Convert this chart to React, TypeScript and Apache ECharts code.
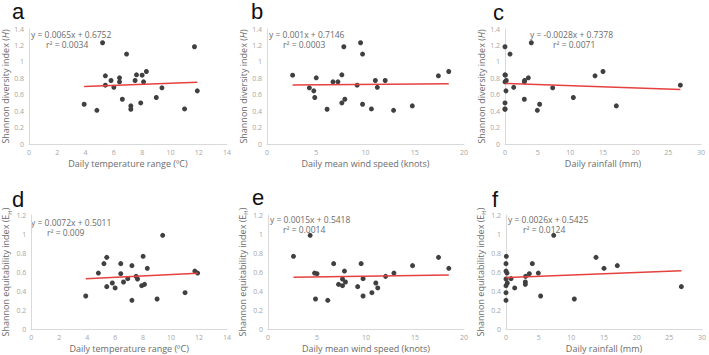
import { useEffect, useRef } from "react";
import * as echarts from "echarts";

// Daily observations (one entry per sampling day)
const tempRange = [3.9, 4.8, 5.2, 5.4, 5.4, 5.8, 6.0, 6.4, 6.4, 6.6, 6.9, 7.2, 7.2, 7.5, 7.6, 7.9, 8.0, 8.1, 8.3, 9.0, 9.4, 11.0, 11.7, 11.9];
const windSpeed = [9.7, 12.85, 9.5, 17.4, 9.15, 11.0, 11.2, 5.0, 6.7, 7.9, 9.7, 14.75, 6.1, 12.0, 7.6, 7.6, 2.6, 7.2, 18.45, 4.85, 4.3, 10.6, 7.8, 4.75];
const rainfall = [5.3, 4.95, 4.03, 13.78, 26.84, 0.2, 1.33, 3.57, 0, 2.96, 0.77, 17.04, 0, 3.0, 0, 0, 0.05, 2.96, 15.0, 10.46, 7.3, 0, 0, 0.15];
const diversityH = [0.484, 0.41, 1.233, 0.83, 0.716, 0.773, 0.69, 0.806, 0.757, 0.545, 1.095, 0.464, 0.423, 0.773, 0.842, 0.5, 0.838, 0.757, 0.883, 0.566, 0.684, 0.427, 1.184, 0.647];
const equitabilityE = [0.347, 0.589, 0.688, 0.754, 0.446, 0.484, 0.432, 0.582, 0.688, 0.495, 0.53, 0.667, 0.302, 0.554, 0.526, 0.456, 0.765, 0.47, 0.639, 0.316, 0.986, 0.382, 0.61, 0.589];

// Linear fits: [slope, intercept, r²]
const fitA = [0.0065, 0.6752, "0.0034"];
const fitB = [0.001, 0.7146, "0.0003"];
const fitC = [-0.0028, 0.7378, "0.0071"];
const fitD = [0.0072, 0.5011, "0.009"];
const fitE = [0.0015, 0.5418, "0.0014"];
const fitF = [0.0026, 0.5425, "0.0124"];

const panelLetters = ["a", "b", "c", "d", "e", "f"];
const xTitles = [
  "Daily temperature range (ºC)",
  "Daily mean wind speed (knots)",
  "Daily rainfall (mm)",
];
const yTitleTop = "Shannon diversity index ({i|H})";
const yTitleBottom = "Shannon equitability index (E{s|H})";

const FONT = "'Open Sans', 'Noto Sans', sans-serif";
const DOT = "#404040";
const RED = "#e5413f";
const AXIS = "#d9d9d9";
const TICK_TEXT = "#a6a6a6";
const TITLE_TEXT = "#6b6b6b";

type Fit = (number | string)[];

function fmtEq(fit: Fit) {
  const m = fit[0] as number;
  const b = fit[1] as number;
  return `y = ${m}x + ${b}`;
}

export default function App() {
  const ref = useRef<HTMLDivElement>(null);

  useEffect(() => {
    if (!ref.current) return;
    const chart = echarts.init(ref.current, null, { renderer: "svg" });

    const grids = [
      { left: 29, top: 29, width: 198, height: 115 },
      { left: 267, top: 29, width: 197, height: 115 },
      { left: 505, top: 29, width: 196, height: 115 },
      { left: 29, top: 215, width: 198, height: 114 },
      { left: 268, top: 215, width: 196, height: 114 },
      { left: 506, top: 215, width: 196, height: 114 },
    ];

    const xSets = [tempRange, windSpeed, rainfall, tempRange, windSpeed, rainfall];
    const ySets = [diversityH, diversityH, diversityH, equitabilityE, equitabilityE, equitabilityE];
    const fits = [fitA, fitB, fitC, fitD, fitE, fitF];
    const xMax = [14, 20, 30, 14, 20, 30];
    const xInt = [2, 5, 5, 2, 5, 5];

    const xAxis = grids.map((_, i) => ({
      gridIndex: i,
      type: "value",
      min: 0,
      max: xMax[i],
      interval: xInt[i],
      name: xTitles[i % 3],
      nameLocation: "middle",
      nameGap: 15,
      nameTextStyle: { fontFamily: FONT, fontSize: 9, color: TITLE_TEXT },
      axisLine: { show: true, lineStyle: { color: AXIS, width: 1 } },
      axisTick: { show: false },
      splitLine: { show: false },
      axisLabel: { fontFamily: FONT, fontSize: 7, color: TICK_TEXT, margin: 5 },
    }));

    const yAxis = grids.map((_, i) => ({
      gridIndex: i,
      type: "value",
      min: 0,
      max: i < 3 ? 1.4 : 1.2,
      interval: 0.2,
      name: i < 3 ? yTitleTop : yTitleBottom,
      nameLocation: "middle",
      nameGap: 17,
      nameTextStyle: {
        fontFamily: FONT,
        fontSize: 9,
        color: TITLE_TEXT,
        rich: {
          i: { fontFamily: FONT, fontSize: 9, fontStyle: "italic", color: TITLE_TEXT },
          s: { fontFamily: FONT, fontSize: 6, color: TITLE_TEXT, verticalAlign: "bottom", lineHeight: 14 },
        },
      },
      axisLine: { show: true, lineStyle: { color: AXIS, width: 1 } },
      axisTick: { show: false },
      splitLine: { show: false },
      axisLabel: { fontFamily: FONT, fontSize: 7, color: TICK_TEXT, margin: 5 },
    }));

    const series: any[] = [];
    grids.forEach((_, i) => {
      const xs = xSets[i];
      const ys = ySets[i];
      series.push({
        type: "scatter",
        xAxisIndex: i,
        yAxisIndex: i,
        symbolSize: 5,
        itemStyle: { color: DOT, opacity: 1 },
        data: xs.map((x, k) => [x, ys[k]]),
        z: 2,
      });
      const lo = Math.min(...xs);
      const hi = Math.max(...xs);
      const m = fits[i][0] as number;
      const b = fits[i][1] as number;
      series.push({
        type: "line",
        xAxisIndex: i,
        yAxisIndex: i,
        showSymbol: false,
        symbol: "none",
        lineStyle: { color: RED, width: 1.5 },
        data: [
          [lo, m * lo + b],
          [hi, m * hi + b],
        ],
        z: 3,
      });
    });

    const letterPos = [
      [12, 0],
      [251, 0],
      [493, 1],
      [12, 188],
      [252, 186],
      [492, 188],
    ];
    const eqPos = [
      [31, 34, 46, 44],
      [269, 34, 283, 44],
      [530, 34, 553, 44],
      [31, 222, 47, 232],
      [270, 219, 283, 229],
      [508, 219, 523, 229],
    ];

    const graphic: any[] = [];
    panelLetters.forEach((l, i) => {
      graphic.push({
        type: "text",
        left: letterPos[i][0],
        top: letterPos[i][1],
        style: { text: l, font: "22px 'Liberation Sans', Arial, sans-serif", fill: "#111" },
      });
    });
    fits.forEach((f, i) => {
      graphic.push({
        type: "text",
        x: eqPos[i][0],
        y: eqPos[i][1],
        style: {
          text: fmtEq(f),
          font: `8.5px ${FONT}`,
          fill: TITLE_TEXT,
          textVerticalAlign: "middle",
          verticalAlign: "middle",
        },
      });
      graphic.push({
        type: "text",
        x: eqPos[i][2],
        y: eqPos[i][3],
        style: {
          text: `r² = ${f[2]}`,
          font: `8.5px ${FONT}`,
          fill: TITLE_TEXT,
          textVerticalAlign: "middle",
          verticalAlign: "middle",
        },
      });
    });

    chart.setOption({
      animation: false,
      backgroundColor: "#ffffff",
      grid: grids,
      xAxis,
      yAxis,
      series,
      graphic,
    });

    return () => chart.dispose();
  }, []);

  return (
    <div
      ref={ref}
      style={{ position: "absolute", left: 0, top: 0, width: 709, height: 355 }}
    />
  );
}
